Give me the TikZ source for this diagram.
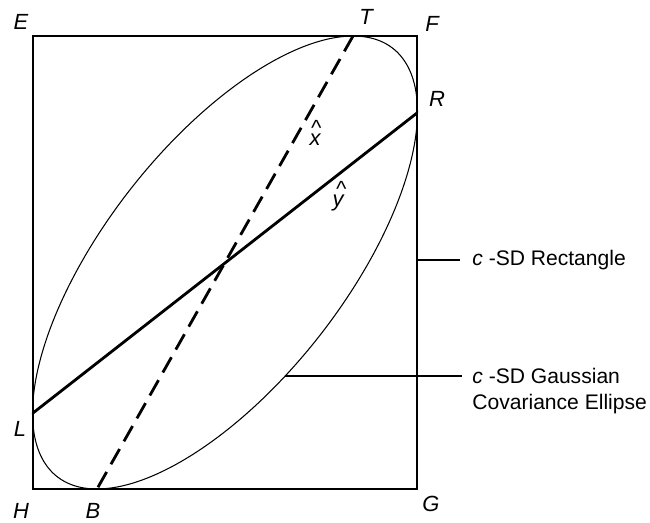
\documentclass[tikz,border=0pt]{standalone}
\usepackage{fontspec}
\setmainfont{Liberation Sans}
\begin{document}
\begin{tikzpicture}[x=0.02cm,y=-0.02cm,
  corner/.style={font=\fontsize{12.5}{14}\selectfont\itshape,inner sep=0pt},
  callout/.style={font=\fontsize{12}{14.5}\selectfont,anchor=west,align=left,inner sep=0pt},
  axis/.style={line width=1.6pt}]
\useasboundingbox (0,0) rectangle (650,522);
% box and tangent points
\coordinate (e) at (33,36);
\coordinate (g) at (417,489);
\coordinate (t) at (353,36);
\coordinate (r) at (417,113);
\coordinate (l) at (33,413);
\coordinate (b) at (97,489);
\draw[line width=0.85pt] (e) rectangle (g);
% ellipse, centre (225,262.5), tilt phase 41.7
\draw[line width=0.6pt] plot[domain=0:360,samples=120,smooth cycle,variable=\t]
  ({225+192.5*cos(\t)},{262.5-226.5*sin(\t+41.7)});
\draw[axis,dash pattern=on 10pt off 5pt] (t) -- (b);
\draw[axis] (l) -- (r);
\node[corner] (E) at (21,22) {E};
\node[corner] (T) at (366,17) {T};
\node[corner] (F) at (432,24) {F};
\node[corner] (R) at (437,99) {R};
\node[corner] (L) at (20,429) {L};
\node[corner] (H) at (21,511) {H};
\node[corner] (B) at (93,511) {B};
\node[corner] (G) at (431,504) {G};
\node[corner] (xhat) at (315,140) {x};
\node[corner] (xcaret) at (316,128) {\^{}};
\node[corner] (yhat) at (338,203) {y};
\node[corner] (ycaret) at (341,189) {\^{}};
% callouts
\coordinate (rectpt) at (417,260);
\coordinate (ellpt) at ({225+192.5*cos(-71.7)},376);
\node[callout] (rectlab) at (472,260) {\textit{c} -SD Rectangle};
\node[callout] (elllab) at (472,391) {\textit{c} -SD Gaussian\\Covariance Ellipse};
\draw[line width=0.6pt] (rectpt) -- (460,260);
\draw[line width=0.6pt] (ellpt) -- (462,376);
\end{tikzpicture}
\end{document}
